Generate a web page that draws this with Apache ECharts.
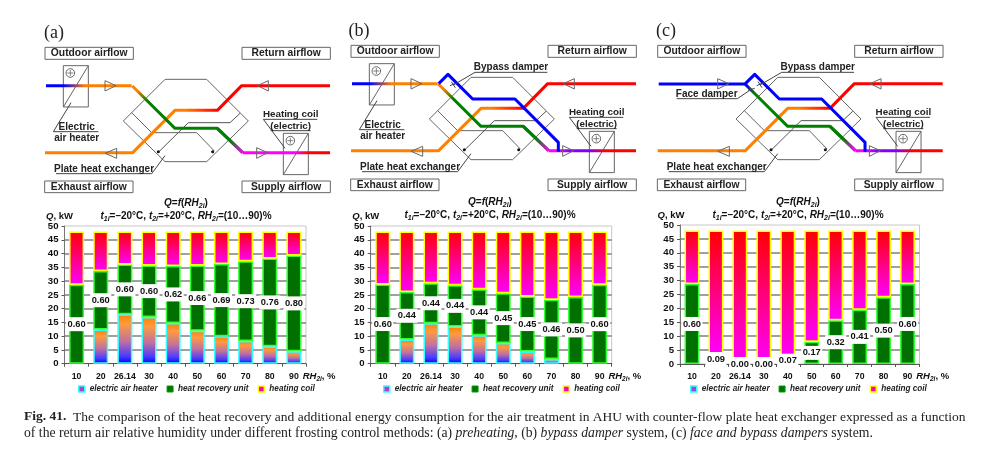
<!DOCTYPE html>
<html><head><meta charset="utf-8">
<style>html,body{margin:0;padding:0;background:#fff}#c{width:1000px;height:465px}</style>
<script src="https://cdn.jsdelivr.net/npm/echarts@6/dist/echarts.min.js"></script>
</head><body><div id="c"></div>
<script>
const categories = ['10','20','26.14','30','40','50','60','70','80','90'];
const heaterA   = [null,12.4,18,17,14.8,12,10,8.2,6.3,4.5];
const recoveryA = [28.7,21.3,18,18.7,20.7,23.7,26.2,29,31.9,34.8];
const coilA     = [19.3,14.3,12,12.3,12.5,12.3,11.8,10.8,9.8,8.7];
const labelsA   = ['0.60','0.60','0.60','0.60','0.62','0.66','0.69','0.73','0.76','0.80'];
const heaterB   = [null,8.8,14.7,13.5,10.3,7.5,4.4,1.7,null,null];
const recoveryB = [28.8,17.2,14.5,15,16.7,18.1,20,21.5,24.2,28.7];
const coilB     = [19.2,22,18.8,19.5,21,22.4,23.6,24.8,23.8,19.3];
const labelsB   = ['0.60','0.44','0.44','0.44','0.44','0.45','0.45','0.46','0.50','0.60'];
const heaterC   = [null,null,null,null,null,null,null,null,null,null];
const recoveryC = [28.8,3.6,0,0,2.4,8,15.7,19.5,24,28.8];
const coilC     = [19.2,44.4,48,48,45.6,40,32.3,28.5,24,19.2];
const labelsC   = ['0.60','0.09','0.00','0.00','0.07','0.17','0.32','0.41','0.50','0.60'];
const yMax = 50, yStep = 5;

const FAM = 'Liberation Sans';
const SANS = '"Liberation Sans", Arial, sans-serif';
const SERIF = '"Liberation Serif", serif';
const G = echarts.graphic.LinearGradient;
const BLUE='#0000ff',ORANGE='#ff8000',GREEN='#007f00',MAG='#ff00ff',RED='#ff0000',PUR='#8000ff';

const panels = [
 {k:'a',ox:30,oy:15,gl:64.5,gw:241.5,gt:226,gh:137.7,tc:186,tt:197,nameX:-5,leg:78,hv:heaterA,rv:recoveryA,cv:coilA,lb:labelsA,letter:[54,33]},
 {k:'b',ox:336,oy:13,gl:370.7,gw:241,gt:226,gh:137.7,tc:490,tt:196,nameX:-5,leg:383,hv:heaterB,rv:recoveryB,cv:coilB,lb:labelsB,letter:[359,31]},
 {k:'c',ox:642.7,oy:13,gl:680,gw:239.5,gt:225,gh:139,tc:798,tt:196,nameX:-9,leg:690,hv:heaterC,rv:recoveryC,cv:coilC,lb:labelsC,letter:[666,31]}
];

const grids=[],xAxes=[],yAxes=[],series=[],legends=[],titles=[],gfx=[];
const rs=(size,style,extra)=>Object.assign({fontFamily:FAM,fontSize:size,fontWeight:'bold',fontStyle:style||'normal',color:'#111',lineHeight:13},extra||{});
const titleRich={b:rs(10),i:rs(10,'italic'),s:rs(7,'italic',{verticalAlign:'bottom'})};
const nameRich={b:rs(9.5),i:rs(9.5,'italic'),s:rs(6.5,'italic',{verticalAlign:'bottom'})};
const HEATER='electric air heater',REC='heat recovery unit',COIL='heating coil';

function line(pts,stroke,w){gfx.push({type:'polyline',silent:true,shape:{points:pts},style:{stroke,lineWidth:w,fill:null,lineJoin:'round'}});}
function text(x,y,t,font,align){gfx.push({type:'text',silent:true,style:{x,y,text:t,font,fill:'#222',align:align||'center',verticalAlign:'middle'}});}

panels.forEach((p,i)=>{
 grids.push({left:p.gl,top:p.gt,width:p.gw,height:p.gh,show:true,borderColor:'#c8c8c8',borderWidth:1,backgroundColor:'#fff',containLabel:false});
 xAxes.push({type:'category',gridIndex:i,data:categories,boundaryGap:true,
  axisLine:{lineStyle:{color:'#555',width:1}},axisTick:{show:true,alignWithLabel:false,length:3,lineStyle:{color:'#555'}},
  axisLabel:{interval:0,fontFamily:FAM,fontWeight:'bold',fontSize:8.7,color:'#111',margin:8},splitLine:{show:false},
  name:'{i|RH}{s|2i}{b|, %}',nameLocation:'end',nameGap:-8,
  nameTextStyle:{padding:[25,0,0,0],rich:nameRich}});
 yAxes.push({type:'value',gridIndex:i,min:0,max:yMax,interval:yStep,
  axisLine:{show:true,lineStyle:{color:'#777',width:1}},axisTick:{show:true,length:3,lineStyle:{color:'#555'}},
  axisLabel:{fontFamily:FAM,fontWeight:'bold',fontSize:9.6,color:'#111',margin:6},
  splitLine:{show:true,showMinLine:false,showMaxLine:false,lineStyle:{color:'#808080',width:1.5}},
  name:'{i|Q}{b|, kW}',nameLocation:'end',nameGap:3,nameTextStyle:{align:'center',padding:[0,0,0,p.nameX*2],rich:nameRich}});
 const common={type:'bar',stack:'s'+i,xAxisIndex:i,yAxisIndex:i,barWidth:'62%',z:3};
 series.push({...common,name:HEATER,data:p.hv,
  itemStyle:{color:new G(0,0,0,1,[{offset:0,color:ORANGE},{offset:0.2,color:'#ff9a40'},{offset:0.55,color:'#c070a0'},{offset:0.85,color:'#4a3aff'},{offset:1,color:BLUE}]),borderColor:'#33ffff',borderWidth:1.5}});
 series.push({...common,name:REC,
  data:p.rv.map(v=>v===0?{value:0,itemStyle:{borderWidth:0}}:v),
  itemStyle:{color:'#007000',borderColor:'#33ff33',borderWidth:1.5},
  label:{show:true,position:'inside',formatter:o=>p.lb[o.dataIndex],fontFamily:FAM,fontWeight:'bold',fontSize:9.3,color:'#111',backgroundColor:'#fff',padding:[3,1.5,2,1.5]},z:3});
 series.push({...common,name:COIL,data:p.cv,
  itemStyle:{color:new G(0,0,0,1,[{offset:0,color:RED},{offset:1,color:MAG}]),borderColor:'#ffff00',borderWidth:1.5}});
 legends.push({left:p.leg,top:385,itemWidth:6,itemHeight:6,itemGap:9,padding:0,selectedMode:false,
  textStyle:{fontFamily:FAM,fontWeight:'bold',fontStyle:'italic',fontSize:8.2,color:'#222'},
  data:[{name:HEATER,icon:'rect',itemStyle:{color:'#b040d0',borderColor:'#33ffff',borderWidth:1.5}},
        {name:REC,icon:'rect',itemStyle:{color:'#007000',borderColor:'#00a000',borderWidth:1}},
        {name:COIL,icon:'rect',itemStyle:{color:'#ff00c0',borderColor:'#ffff00',borderWidth:1.5}}]});
 titles.push({left:p.tc,top:p.tt,textAlign:'center',padding:0,
  text:'{i|Q}{b|=}{i|f}{b|(}{i|RH}{s|2i}{b|)}\n{i|t}{s|1i}{b|=–20°C, }{i|t}{s|2i}{b|=+20°C, }{i|RH}{s|2i}{b|=(10…90)%}',
  textStyle:{rich:titleRich}});

 /* schematic */
 const P=(x,y)=>[p.ox+x/3,p.oy+y/3];
 const grad=(a,b,stops)=>{const A=P(...a),B=P(...b);return new G(A[0],A[1],B[0],B[1],stops.map(s=>({offset:s[0],color:s[1]})),true);};
 text(p.letter[0],p.letter[1],'('+p.k+')','18px "Liberation Serif", serif');
 const GR='#666';
 [[45,97,265,36,'Outdoor airflow'],[636,97,265,36,'Return airflow'],[44,498,265,35,'Exhaust airflow'],[636,498,265,35,'Supply airflow']].forEach(b=>{
  const a=P(b[0],b[1]);
  gfx.push({type:'rect',silent:true,shape:{x:a[0],y:a[1],width:b[2]/3,height:b[3]/3},style:{fill:'#fff',stroke:GR,lineWidth:1}});
  const c=P(b[0]+b[2]/2,b[1]+b[3]/2);text(c[0],c[1],b[4],'bold 10.3px '+SANS);
 });
 line([[405,193],[530,193],[655,318],[530,440],[405,440],[280,318],[405,193]].map(q=>P(...q)),GR,1);
 line([[305,293],[365,353],[500,353],[553,408]].map(q=>P(...q)),GR,1);
 line([[630,295],[600,323],[475,323],[385,412]].map(q=>P(...q)),'#555',1);
 [[385,410],[548,410]].forEach(q=>{const c=P(...q);gfx.push({type:'circle',silent:true,shape:{cx:c[0],cy:c[1],r:1.5},style:{fill:'#111'}});});
 const unit=(x,y)=>{const a=P(x,y),b=P(x+75,y+124),c=P(x+21,y+22);
  gfx.push({type:'rect',silent:true,shape:{x:a[0],y:a[1],width:25,height:41.3},style:{fill:'#fff',stroke:GR,lineWidth:1}});
  line([[a[0],b[1]],[b[0],a[1]]],GR,1);
  gfx.push({type:'circle',silent:true,shape:{cx:c[0],cy:c[1],r:4.3},style:{fill:'#fff',stroke:GR,lineWidth:1}});
  line([[c[0]-3,c[1]],[c[0]+3,c[1]]],GR,0.8);line([[c[0],c[1]-3],[c[0],c[1]+3]],GR,0.8);
 };
 if(p.k!=='c')unit(100,152);
 unit(760,355);
 line([P(900,212),P(635,212),P(562,286),P(435,286),P(308,413),P(45,413)],grad([562,286],[465,286],[[0,RED],[1,ORANGE]]),3);
 if(p.k==='c') line([P(48,213),P(312,213)],BLUE,3);
 else line([P(48,212),P(305,212)],grad([100,212],[165,212],[[0,BLUE],[1,ORANGE]]),3);
 line([P(307,213),P(435,340),P(562,340),P(638,413)],
   p.k==='c'?grad([312,218],[335,240],[[0,BLUE],[1,GREEN]]):grad([320,228],[352,258],[[0,ORANGE],[1,GREEN]]),3);
 line([P(562,340),P(638,413)],grad([600,375],[635,410],[[0,GREEN],[1,MAG]]),3);
 if(p.k==='a') line([P(638,413),P(900,413)],grad([795,413],[835,413],[[0,MAG],[1,RED]]),3);
 else line([P(638,413),P(900,413)],grad([660,413],[810,413],[[0,MAG],[0.3,PUR],[0.65,PUR],[1,RED]]),3);
 if(p.k!=='a') line([[308,212],[336,184],[410,258],[537,258],[667,388],[667,416]].map(q=>P(...q)),BLUE,3);
 [[[225,197],[258,212],[225,228]],[[715,197],[682,212],[715,228]],[[260,400],[225,415],[260,430]],[[680,398],[713,413],[680,430]]].forEach(t=>{
  gfx.push({type:'polygon',silent:true,shape:{points:t.map(q=>P(...q))},style:{fill:null,stroke:GR,lineWidth:1}});
 });
 const L='#444';
 if(p.k!=='c'){
  line([P(123,263),P(70,350),P(205,350)],L,1);
  let c=P(140,336);text(c[0],c[1],'Electric','bold 10px '+SANS);
  c=P(140,370);text(c[0],c[1],'air heater','bold 10px '+SANS);
 }
 line([P(765,400),P(700,313),P(862,313)],L,1);
 line([P(722,347),P(842,347)],L,1);
 let c=P(782,299);text(c[0],c[1],'Heating coil','bold 9.8px '+SANS);
 c=P(782,333);text(c[0],c[1],'(electric)','bold 9.8px '+SANS);
 line([P(78,476),P(365,476),P(405,422)],L,1);
 c=P(222,462);text(c[0],c[1],'Plate heat exchanger','bold 10px '+SANS);
 if(p.k!=='a'){
  line([P(417,178),P(634,178)],L,1);line([P(417,178),P(352,216)],L,1);
  c=P(525,164);text(c[0],c[1],'Bypass damper','bold 10px '+SANS);
  line([P(346,206),P(358,224)],L,1);line([P(342,218),P(360,210)],L,1);
 }
 if(p.k==='c'){
  line([P(102,257),P(284,257),P(327,228)],L,1);
  c=P(192,243);text(c[0],c[1],'Face damper','bold 10px '+SANS);
  line([P(320,222),P(332,238)],L,1);line([P(316,232),P(336,226)],L,1);
 }
});

gfx.push({type:'text',silent:true,style:{x:24,y:417,verticalAlign:'middle',align:'left',
 text:'{b|Fig. 41.}{r|  The comparison of the heat recovery and additional energy consumption for the air treatment in AHU with counter-flow plate heat exchanger expressed as a function}',
 rich:{b:{font:'bold 13.5px '+SERIF,fill:'#222'},r:{font:'13.5px '+SERIF,fill:'#222'}}}});
gfx.push({type:'text',silent:true,style:{x:24,y:433,verticalAlign:'middle',align:'left',
 text:'{r|of the return air relative humidity under different frosting control methods: (a) }{i|preheating}{r|, (b) }{i|bypass damper}{r| system, (c) }{i|face and bypass dampers}{r| system.}',
 rich:{i:{font:'italic 13.7px '+SERIF,fill:'#222'},r:{font:'13.7px '+SERIF,fill:'#222'}}}});

const chart=echarts.init(document.getElementById('c'),null,{renderer:'canvas'});
chart.setOption({animation:false,backgroundColor:'#fff',title:titles,grid:grids,xAxis:xAxes,yAxis:yAxes,series,legend:legends,graphic:{elements:gfx},tooltip:{show:false}});
</script></body></html>
